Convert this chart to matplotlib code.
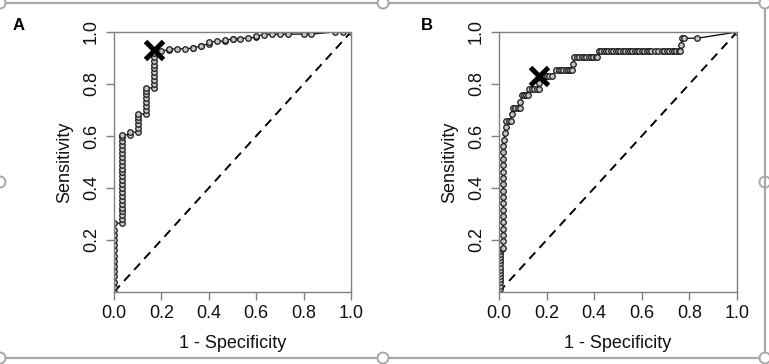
import matplotlib
matplotlib.use("Agg")
import matplotlib.pyplot as plt
from matplotlib.lines import Line2D
from matplotlib.patches import Ellipse

plt.rcParams['font.family'] = ['Liberation Sans', 'DejaVu Sans']

# ---------------- data ----------------
# Panel A ROC points (1 - specificity, sensitivity)
fpr_a = ([0.0] * 14 +
         [0.033] * 24 +
         [0.067, 0.067] +
         [0.1] * 6 +
         [0.133] * 8 +
         [0.167] * 11 +
         [0.2, 0.233, 0.233, 0.267, 0.3, 0.333, 0.333, 0.367, 0.367, 0.4, 0.4,
          0.433, 0.467, 0.467, 0.5, 0.5, 0.533, 0.567, 0.6, 0.6, 0.633, 0.667,
          0.7, 0.733, 0.8, 0.833, 0.933, 0.967, 1.0])
tpr_a = ([0.00, 0.02, 0.04, 0.06, 0.08, 0.10, 0.12, 0.14, 0.16, 0.18, 0.20, 0.22, 0.24, 0.265] +
         [0.265, 0.28, 0.295, 0.31, 0.325, 0.34, 0.355, 0.37, 0.385, 0.40, 0.415, 0.43,
          0.445, 0.46, 0.475, 0.49, 0.505, 0.52, 0.535, 0.55, 0.565, 0.58, 0.595, 0.605] +
         [0.605, 0.615] +
         [0.615, 0.63, 0.645, 0.66, 0.675, 0.685] +
         [0.685, 0.70, 0.715, 0.73, 0.745, 0.76, 0.775, 0.785] +
         [0.785, 0.80, 0.815, 0.83, 0.845, 0.86, 0.875, 0.89, 0.905, 0.92, 0.93] +
         [0.928, 0.931, 0.934, 0.935, 0.936, 0.938, 0.940, 0.945, 0.948, 0.954, 0.960,
          0.964, 0.966, 0.969, 0.972, 0.975, 0.975, 0.977, 0.980, 0.984, 0.990, 0.992,
          0.992, 0.992, 0.992, 0.992, 1.0, 1.0, 1.0])
best_a = (0.167, 0.93)

# Panel B ROC points
fpr_b = ([0.0] +
         [0.004] * 13 +
         [0.011] +
         [0.017] * 17 +
         [0.020, 0.025, 0.031] +
         [0.031, 0.040, 0.050] +
         [0.053] +
         [0.058, 0.068, 0.078, 0.088] +
         [0.090] +
         [0.097, 0.105, 0.113, 0.121] +
         [0.128, 0.138, 0.148, 0.158, 0.167] +
         [0.167] +
         [0.172, 0.182, 0.192, 0.202, 0.212, 0.222] +
         [0.240, 0.250, 0.260, 0.270, 0.280, 0.290, 0.300, 0.307] +
         [0.312] +
         [0.317, 0.327, 0.337, 0.347, 0.357, 0.367, 0.377, 0.387, 0.397, 0.407, 0.412] +
         [0.420, 0.430, 0.440, 0.450, 0.460, 0.470, 0.480, 0.490, 0.500, 0.510, 0.520,
          0.530, 0.540, 0.550, 0.560, 0.570, 0.580, 0.590, 0.600, 0.610, 0.620, 0.630,
          0.640, 0.655, 0.670, 0.684, 0.695, 0.705, 0.715, 0.725, 0.735, 0.745, 0.755, 0.762] +
         [0.765, 0.768, 0.777, 0.833, 1.0])
tpr_b = ([0.0] +
         [0.012, 0.024, 0.037, 0.049, 0.061, 0.073, 0.085, 0.098, 0.110, 0.122, 0.134, 0.146, 0.158] +
         [0.165] +
         [0.171, 0.195, 0.220, 0.244, 0.268, 0.293, 0.317, 0.341, 0.366, 0.390, 0.415,
          0.439, 0.463, 0.488, 0.512, 0.537, 0.561] +
         [0.585, 0.610, 0.634] +
         [0.659] * 3 +
         [0.683] +
         [0.707] * 4 +
         [0.732] +
         [0.756] * 4 +
         [0.780] * 5 +
         [0.805] +
         [0.829] * 6 +
         [0.854] * 8 +
         [0.878] +
         [0.902] * 11 +
         [0.927] * 34 +
         [0.951, 0.976, 0.976, 0.976, 1.0])
best_b = (0.17, 0.829)

x_ticks = [0.0, 0.2, 0.4, 0.6, 0.8, 1.0]
y_ticks = [0.2, 0.4, 0.6, 0.8, 1.0]
panel_letters = ['A', 'B']
x_label = '1 - Specificity'
y_label = 'Sensitivity'

# ---------------- figure ----------------
W, H = 769, 364
fig = plt.figure(figsize=(W / 100, H / 100), dpi=100)
fig.patch.set_facecolor('white')


def fx(x):
    return x / W


def fy(y):
    return 1 - y / H


axes_px = [(114, 32, 351, 292), (499, 32, 737, 292)]
datasets = [(fpr_a, tpr_a, best_a), (fpr_b, tpr_b, best_b)]
letter_px = [(13, 30), (421, 30)]

axis_grey = '#808080'

for (l, t, r, b), (fp, tp, best), letter, (lx, ly) in zip(axes_px, datasets, panel_letters, letter_px):
    ax = fig.add_axes([fx(l), fy(b), (r - l) / W, (b - t) / H])
    ax.plot([0, 1], [0, 1], color='black', lw=1.4, ls=(0, (4.5, 3.2)))
    ax.plot(fp, tp, color='black', lw=0.9, marker='o', ms=4.0,
            mfc='#c4c4c4', mec='#1a1a1a', mew=0.9)
    ax.plot([best[0]], [best[1]], marker='x', ms=13, mew=3.6, color='black', ls='none')
    ax.set_xlim(0, 1)
    ax.set_ylim(0, 1)
    ax.set_xticks(x_ticks)
    ax.set_xticklabels([f'{v:.1f}' for v in x_ticks])
    ax.set_yticks(y_ticks)
    ax.set_yticklabels([f'{v:.1f}' for v in y_ticks])
    for s in ax.spines.values():
        s.set_color(axis_grey)
        s.set_linewidth(1.0)
    ax.tick_params(axis='both', length=6, width=1.0, color=axis_grey,
                   labelsize=13, labelcolor='#111111')
    ax.tick_params(axis='x', pad=3)
    ax.tick_params(axis='y', pad=4)
    for lab in ax.get_yticklabels():
        lab.set_rotation(90)
        lab.set_va('center')
    ax.set_xlabel(x_label, fontsize=13, labelpad=10, color='#111111')
    ax.set_ylabel(y_label, fontsize=13, labelpad=7, color='#111111')
    fig.text(fx(lx), fy(ly), letter, fontsize=12, fontweight='bold',
             ha='left', va='baseline')

# ---------------- panel frames (decorative borders) ----------------
frame_grey = '#a8a8a8'
frame_lines = [
    [(6, 3), (377, 3)], [(6, 358), (377, 358)],
    [(390, 3), (759, 3)], [(390, 358), (759, 358)],
    [(765, 9), (765, 352)],
]
for (x0, y0), (x1, y1) in frame_lines:
    fig.add_artist(Line2D([fx(x0), fx(x1)], [fy(y0), fy(y1)],
                          transform=fig.transFigure, color=frame_grey, lw=1.6))

handles = [(0, 3), (0, 182), (0, 358), (383, 3), (383, 358),
           (765, 3), (765, 182), (765, 358)]
for hx, hy in handles:
    fig.add_artist(Ellipse((fx(hx), fy(hy)), 11 / W, 11 / H,
                           transform=fig.transFigure, facecolor='white',
                           edgecolor=frame_grey, lw=1.4))

fig.savefig('out.png', dpi=100, facecolor='white')
